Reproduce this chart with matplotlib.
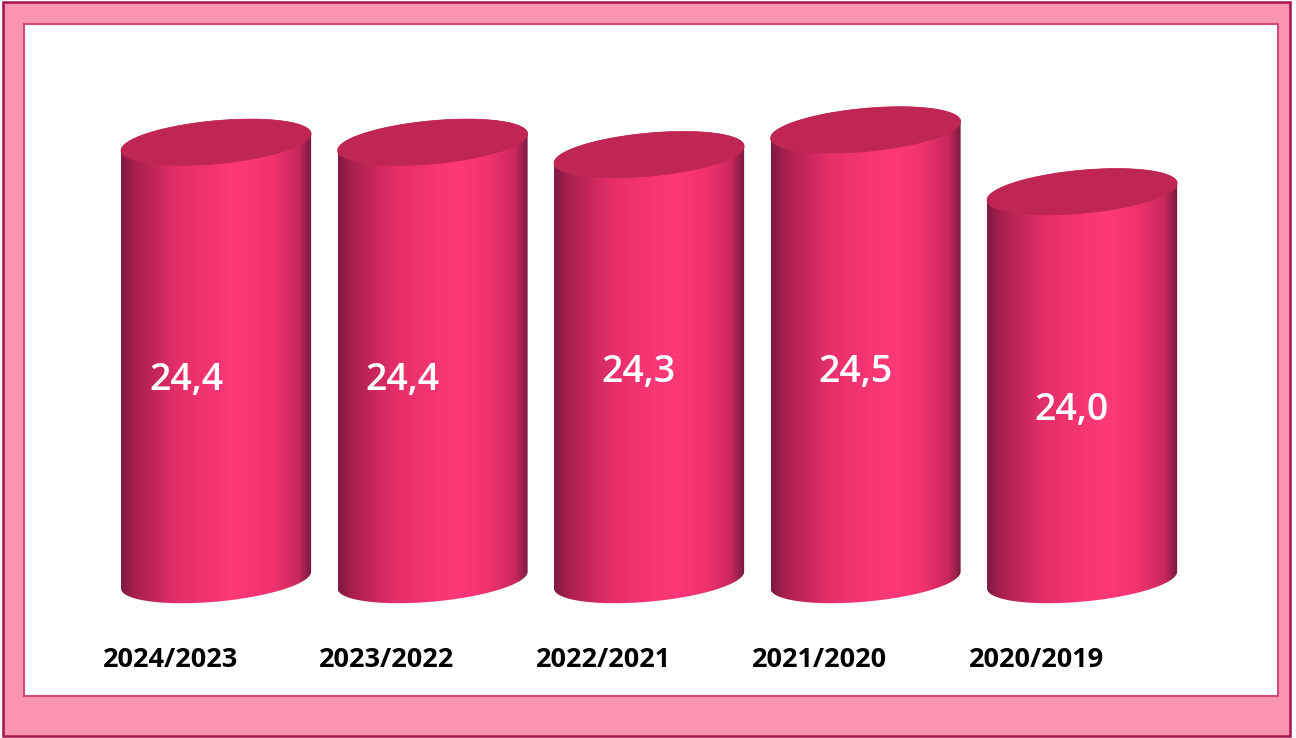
import numpy as np
import matplotlib
matplotlib.use("Agg")
import matplotlib.pyplot as plt
from matplotlib.patches import Polygon, Rectangle
from matplotlib.colors import LinearSegmentedColormap

seasons = ["2024/2023", "2023/2022", "2022/2021", "2021/2020", "2020/2019"]
values = [24.4, 24.4, 24.3, 24.5, 24.0]
value_labels = ["24,4", "24,4", "24,3", "24,5", "24,0"]

# label placement tweaks (pixels from the middle of each cylinder)
label_nudge = [(-30, -19), (-30, -19), (-11, -5), (-10, -17), (-11, -24)]

base = 20.86          # value where the cylinders stand
bar_width = 0.878
tilt = np.deg2rad(5.3)  # tilt of the ellipses
ell_b = 21.5            # short semi axis of the ellipses, pixels

body_cmap = LinearSegmentedColormap.from_list("body", [
    (0.00, "#7e1a42"),
    (0.07, "#a81f4e"),
    (0.30, "#e52f69"),
    (0.62, "#ff3977"),
    (0.80, "#ef326e"),
    (0.93, "#c9285c"),
    (1.00, "#761a3f"),
])
top_color = "#c02654"

fig = plt.figure(figsize=(12.96, 7.38), dpi=100)
ax = fig.add_axes([0, 0, 1, 1])
ax.set_xlim(-0.998, 4.988)
ax.set_ylim(19.583, 25.55)
ax.set_autoscale_on(False)
ax.axis("off")

# frame
W, H = 1296, 738
ax.add_patch(Rectangle((3 / W, 2 / H), 1287 / W, 734 / H, transform=ax.transAxes,
                       facecolor="#fb94b2", edgecolor="#a3124c", lw=1.8, zorder=0))
ax.add_patch(Rectangle((24 / W, 42 / H), 1254 / W, 672 / H, transform=ax.transAxes,
                       facecolor="white", edgecolor="#cf4a7e", lw=1.5, zorder=0.5))

# pixels per data unit
p0 = ax.transData.transform((0, 0))
p1 = ax.transData.transform((1, 1))
sx, sy = p1 - p0

half_px = bar_width / 2 * sx
ell_a = np.sqrt((half_px ** 2 - ell_b ** 2 * np.sin(tilt) ** 2) / np.cos(tilt) ** 2)


def ellipse_pts(cx, cy, t):
    dx = ell_a * np.cos(t) * np.cos(tilt) - ell_b * np.sin(t) * np.sin(tilt)
    dy = ell_a * np.cos(t) * np.sin(tilt) + ell_b * np.sin(t) * np.cos(tilt)
    return np.column_stack([cx + dx / sx, cy + dy / sy])


t0 = np.arctan2(-ell_b * np.sin(tilt), ell_a * np.cos(tilt))
grad = np.linspace(0, 1, 256)[np.newaxis, :]

for i, v in enumerate(values):
    low_arc = ellipse_pts(i, base, np.linspace(t0 + np.pi, t0 + 2 * np.pi, 120))
    up_arc = ellipse_pts(i, v, np.linspace(t0, t0 + np.pi, 120))
    body = Polygon(np.vstack([low_arc, up_arc]), closed=True,
                   facecolor="none", edgecolor="none", zorder=2)
    ax.add_patch(body)
    im = ax.imshow(grad, cmap=body_cmap, aspect="auto", interpolation="bicubic",
                   extent=(i - bar_width / 2, i + bar_width / 2, base - 0.4, v + 0.4),
                   zorder=2)
    im.set_clip_path(body)

    top = Polygon(ellipse_pts(i, v, np.linspace(0, 2 * np.pi, 240)), closed=True,
                  facecolor=top_color, edgecolor=top_color, lw=0.5, zorder=3)
    ax.add_patch(top)

    dx, dy = label_nudge[i]
    ax.annotate(value_labels[i], xy=(i, (v + base) / 2), xytext=(dx, dy),
                textcoords="offset pixels", ha="center", va="center",
                color="white", fontsize=27, fontweight="semibold",
                family="Open Sans", zorder=4)

    ax.annotate(seasons[i], xy=(i, base), xytext=(-46, -80),
                textcoords="offset pixels", ha="center", va="center",
                color="black", fontsize=19.5, fontweight="bold",
                family="Open Sans", zorder=4)

fig.savefig("out.png", dpi=100)
